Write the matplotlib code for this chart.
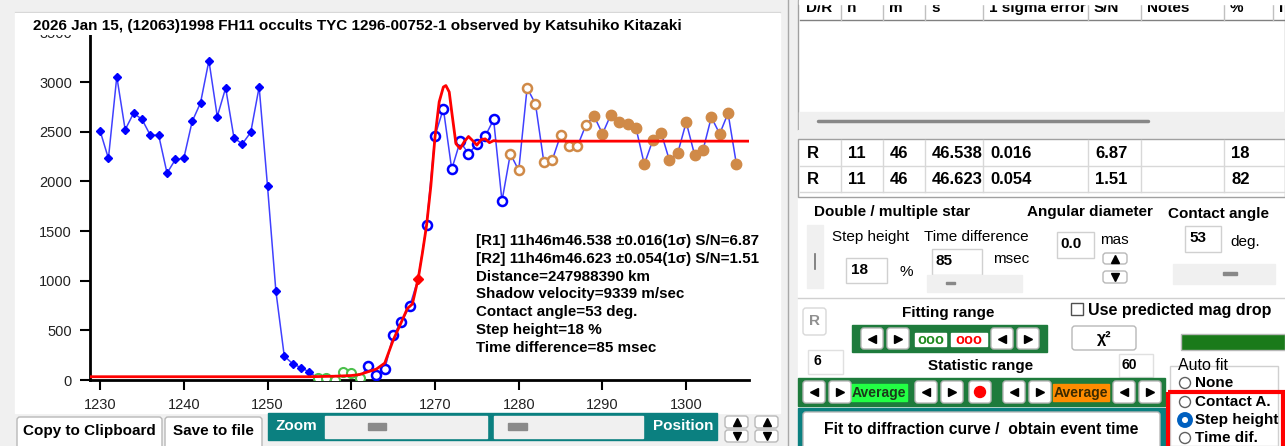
import numpy as np
import matplotlib.pyplot as plt
from matplotlib.patches import Rectangle, FancyBboxPatch, Circle

plt.rcParams['font.family'] = ['Liberation Sans', 'DejaVu Sans']

W, H = 1285, 446

title = "2026 Jan 15, (12063)1998 FH11 occults TYC 1296-00752-1 observed by Katsuhiko Kitazaki"

# light curve, frame number vs. intensity
pre_x = list(range(1230, 1256))
pre_y = [2510, 2231, 3055, 2520, 2686, 2626, 2465, 2465, 2083, 2221, 2231, 2603, 2791,
         3216, 2653, 2941, 2435, 2378, 2495, 2951, 1950, 894, 241, 164, 124, 80]
base_x = list(range(1256, 1262))
base_y = [17, 17, 5, 85, 68, 17]
rise_x = [1262, 1263, 1264, 1265, 1266, 1267, 1269, 1270, 1271, 1272, 1273, 1274, 1275,
          1276, 1277, 1278]
rise_y = [141, 50, 107, 449, 586, 747, 1561, 2459, 2731, 2121, 2402, 2278, 2372, 2455,
          2623, 1802]
event_x = [1268]
event_y = [1022]
post_open_x = list(range(1279, 1289))
post_open_y = [2278, 2111, 2941, 2780, 2194, 2214, 2465, 2352, 2352, 2563]
post_fill_x = list(range(1289, 1307))
post_fill_y = [2657, 2479, 2670, 2596, 2573, 2539, 2171, 2412, 2492, 2211, 2288, 2596,
               2268, 2312, 2646, 2479, 2686, 2171]

# fitted diffraction curve
fit_x = [1228.8, 1255, 1258, 1260, 1261, 1262, 1263, 1264, 1265, 1266, 1266.7, 1267.3,
         1268, 1268.5, 1269, 1269.5, 1270, 1270.5, 1271, 1271.3, 1271.7, 1272, 1272.5,
         1273, 1273.5, 1274, 1274.5, 1275, 1275.5, 1276, 1276.5, 1277, 1277.5, 1307.5]
fit_y = [33, 33, 38, 45, 55, 83, 110, 170, 400, 586, 720, 765, 1022, 1280, 1561, 1950,
         2445, 2800, 2950, 2965, 2900, 2700, 2380, 2330, 2400, 2452, 2410, 2365, 2420,
         2428, 2390, 2410, 2405, 2405]

result_lines = ["[R1] 11h46m46.538 \u00b10.016(1\u03c3) S/N=6.87",
                "[R2] 11h46m46.623 \u00b10.054(1\u03c3) S/N=1.51",
                "Distance=247988390 km",
                "Shadow velocity=9339 m/sec",
                "Contact angle=53 deg.",
                "Step height=18 %",
                "Time difference=85 msec"]

table_header = ["D/R", "h", "m", "s", "1 sigma error", "S/N", "Notes", "%", "I"]
table_rows = [["R", "11", "46", "46.538", "0.016", "6.87", "", "18"],
              ["R", "11", "46", "46.623", "0.054", "1.51", "", "82"]]
col_edges = [800, 841, 883, 925, 983, 1088, 1141, 1224, 1273]

fig = plt.figure(figsize=(W / 100, H / 100), dpi=100, facecolor='#f0f0f0')

# background "GUI" layer in pixel coordinates
bg = fig.add_axes([0, 0, 1, 1], zorder=-1)
bg.set_xlim(0, W)
bg.set_ylim(H, 0)
bg.axis('off')


def box(x, y, w, h, fc='white', ec=None, lw=1, z=1):
    bg.add_patch(Rectangle((x, y), w, h, facecolor=fc, edgecolor=ec if ec else fc,
                           linewidth=lw, zorder=z))


def button(x, y, w, h, fc='white', ec='#b8b8b8', z=2):
    bg.add_patch(FancyBboxPatch((x, y), w, h, boxstyle='round,pad=0,rounding_size=3',
                                facecolor=fc, edgecolor=ec, linewidth=1, zorder=z))


def label(x, y, s, size=11, weight='bold', color='black', ha='left', z=4):
    bg.text(x, y, s, fontsize=size, fontweight=weight, color=color, ha=ha, va='center',
            zorder=z)


def arrow(x, y, w, h, mk):
    button(x, y, w, h, z=3)
    bg.plot(x + w / 2, y + h / 2, marker=mk, color='black', ms=5.5, zorder=4)


# left panel
box(15, 12, 765, 401, fc='white')
bg.plot([15, 780], [12, 12], color='#d8d8d8', lw=1, zorder=2)

button(17, 417, 145, 32)
label(89.5, 431, "Copy to Clipboard", ha='center')
button(165, 417, 97, 32)
label(213.5, 431, "Save to file", ha='center')
box(268, 413, 449, 27, fc='#0b8080')
label(275, 426.5, "Zoom", color='white')
box(325, 416, 162, 22, fc='#f0f0f0')
box(368, 423, 18, 7, fc='#8a8a8a')
box(494, 416, 149, 22, fc='#f0f0f0')
box(508, 423, 19, 7, fc='#8a8a8a')
label(714, 426.5, "Position", color='white', ha='right')
for bx in [725, 755]:
    arrow(bx, 416, 23, 12, '^')
    arrow(bx, 430, 23, 12, 'v')

# splitter
bg.plot([788, 788], [0, H], color='#a8a8a8', lw=1, zorder=2)

# right panel
box(798, 0, 487, H, fc='white')

# results table (top, scrolled so the header is cut)
box(798, 0, 487, 130, fc='white', ec='#a0a0a0')
bg.plot([800, 1285], [20, 20], color='#808080', lw=1, zorder=3)
for cx in col_edges[1:]:
    bg.plot([cx, cx], [0, 20], color='#c0c0c0', lw=1, zorder=3)
for cx, s in zip(col_edges, table_header):
    label(cx + 6, 8, s, size=11)
box(799, 0, 486, 4, fc='white', z=5)
box(799, 112, 485, 17, fc='#f0f0f0')
bg.plot([818, 1148], [121, 121], color='#888888', lw=2.5, solid_capstyle='round', zorder=3)
box(798, 130, 487, 10, fc='#f0f0f0')

# event table
box(798, 139, 487, 58, fc='white', ec='#a0a0a0')
for ry in [166, 192]:
    bg.plot([800, 1285], [ry, ry], color='#d8d8d8', lw=1, zorder=3)
for cx in col_edges[1:-1]:
    bg.plot([cx, cx], [140, 192], color='#d8d8d8', lw=1, zorder=3)
for row, ry in zip(table_rows, [153, 180]):
    for cx, s in zip(col_edges, row):
        label(cx + 7, ry, s, size=12)

# double star / diameter / contact angle
label(814, 212, "Double / multiple star")
label(1027, 212, "Angular diameter")
label(1168, 214, "Contact angle")
box(807, 225, 16, 63, fc='#f0f0f0')
bg.plot([815, 815], [254, 269], color='#707070', lw=1.2, zorder=3)
label(832, 237, "Step height", weight='normal')
label(924, 237, "Time difference", weight='normal')
box(846, 258, 41, 25, fc='white', ec='#d0d0d0')
label(851, 270, "18")
label(899, 272, "%", weight='normal')
box(932, 249, 50, 26, fc='white', ec='#d0d0d0')
label(935, 261, "85")
label(993, 259, "msec", weight='normal')
box(927, 275, 95, 17, fc='#f0f0f0')
box(946, 282, 9, 2, fc='#888888')
box(1057, 232, 37, 26, fc='white', ec='#d0d0d0')
label(1060, 244, "0.0")
label(1100, 240, "mas", weight='normal')
arrow(1103, 253, 24, 11, '^')
arrow(1103, 271, 24, 12, 'v')
box(1185, 226, 36, 26, fc='white', ec='#d0d0d0')
label(1189, 238, "53")
label(1230, 242, "deg.", weight='normal')
box(1173, 264, 102, 20, fc='#f0f0f0')
box(1223, 272, 14, 3, fc='#888888')
bg.plot([798, 1285], [298, 298], color='#d0d0d0', lw=1, zorder=3)

# fitting range
button(803, 308, 23, 27, ec='#d8d8d8')
label(814.5, 321, "R", color='#909090', ha='center')
label(948, 313, "Fitting range", ha='center')
box(852, 325, 195, 27, fc='#1e7b3c')
for bx, mk in [(861, '<'), (887, '>'), (991, '<'), (1017, '>')]:
    arrow(bx, 328, 22, 21, mk)
box(915, 333, 31, 13, fc='white')
label(930.5, 340, "ooo", color='#1e8a1e', ha='center', size=10.5)
box(951, 333, 36, 13, fc='white')
label(969, 340, "ooo", color='red', ha='center', size=10.5)
box(1071, 303, 12, 12, fc='white', ec='#505050')
label(1088, 310, "Use predicted mag drop", size=11.5)
button(1072, 326, 64, 24)
label(1104, 338, "\u03c7\u00b2", ha='center', size=11.5)
box(1181, 334, 104, 16, fc='#1a7a1a', ec='#b8b8b8')

# statistic range
box(808, 350, 35, 24, fc='white', ec='#e0e0e0')
label(813, 361, "6", size=10)
label(981, 366, "Statistic range", ha='center')
box(1119, 354, 34, 23, fc='white', ec='#e0e0e0')
label(1122, 365, "60", size=10)
box(798, 378, 367, 28, fc='#1e7b3c')
for bx, mk in [(803, '<'), (829, '>'), (915, '<'), (941, '>'), (1003, '<'), (1029, '>'),
               (1113, '<'), (1139, '>')]:
    arrow(bx, 381, 22, 22, mk)
box(851, 384, 56, 17, fc='#22ff44')
label(879, 393, "Average", ha='center', size=10, color='#1a3a1a')
box(1053, 384, 56, 17, fc='#ff8c00')
label(1081, 393, "Average", ha='center', size=10, color='#3a2a00')
button(969, 381, 22, 22, z=3)
bg.add_patch(Circle((980, 392), 5.5, color='red', zorder=4))

# fit button
box(798, 408, 367, 38, fc='#0b8080')
button(803, 412, 357, 40)
label(981.5, 430, "Fit to diffraction curve /  obtain event time", ha='center', size=11.3)

# auto fit options
box(1170, 366, 108, 80, fc='white', ec='#d0d0d0')
label(1178, 365, "Auto fit", weight='normal', size=11.5)
for ry, s in zip([383, 402, 420, 438], ["None", "Contact A.", "Step height", "Time dif."]):
    bg.add_patch(Circle((1185, ry), 5.5, facecolor='white', edgecolor='#606060', lw=1,
                        zorder=4))
    label(1195, ry, s, size=11)
bg.add_patch(Circle((1185, 420), 5.5, facecolor='white', edgecolor='#0060c0', lw=3.5,
                    zorder=5))
box(1168, 392, 115, 56, fc='none', ec='red', lw=3, z=6)

# light curve plot
ax = fig.add_axes([90 / W, (H - 380) / H, (749 - 90) / W, (380 - 32.4) / H], facecolor='white')
all_x = pre_x + base_x + rise_x[:6] + event_x + rise_x[6:] + post_open_x + post_fill_x
all_y = pre_y + base_y + rise_y[:6] + event_y + rise_y[6:] + post_open_y + post_fill_y
ax.plot(all_x, all_y, color='#4040ff', lw=1.1, zorder=2)
ax.plot(pre_x, pre_y, 'D', color='#0000ff', ms=4.5, zorder=3)
ax.plot(base_x, base_y, 'o', mfc='white', mec='#4cc04c', mew=1.5, ms=6.5, zorder=3)
ax.plot(rise_x, rise_y, 'o', mfc='white', mec='#0000ff', mew=1.8, ms=6.5, zorder=3)
ax.plot(post_open_x, post_open_y, 'o', mfc='white', mec='#d08a48', mew=1.8, ms=6.5, zorder=3)
ax.plot(post_fill_x, post_fill_y, 'o', color='#d08a48', ms=7.5, zorder=3)
ax.plot(fit_x, fit_y, color='#ff0000', lw=2, zorder=4)
ax.plot(event_x, event_y, 'D', color='#ff0000', ms=5.5, zorder=5)

ax.set_xlim(1228.8, 1307.5)
ax.set_ylim(0, 3500)
ax.set_xticks(np.arange(1230, 1301, 10))
ax.set_yticks(np.arange(0, 3501, 500))
for side in ['top', 'right']:
    ax.spines[side].set_visible(False)
for side in ['left', 'bottom']:
    ax.spines[side].set_linewidth(2)
ax.tick_params(direction='out', length=7, width=1.5, labelsize=10.5, labelcolor='#222222',
               pad=6)

for i, line in enumerate(result_lines):
    ax.text(476, 241 + i * 17.8, line, transform=bg.transData, fontsize=10.9,
            fontweight='bold', va='center', zorder=6)

# title band covering the top of the axis
top = fig.add_axes([0, 0, 1, 1], zorder=5)
top.set_xlim(0, W)
top.set_ylim(H, 0)
top.axis('off')
top.add_patch(Rectangle((15, 13), 765, 22, facecolor='white', edgecolor='none'))
top.text(33, 26, title, fontsize=11, fontweight='bold', va='center')

fig.savefig('out.png', dpi=100, facecolor=fig.get_facecolor())
